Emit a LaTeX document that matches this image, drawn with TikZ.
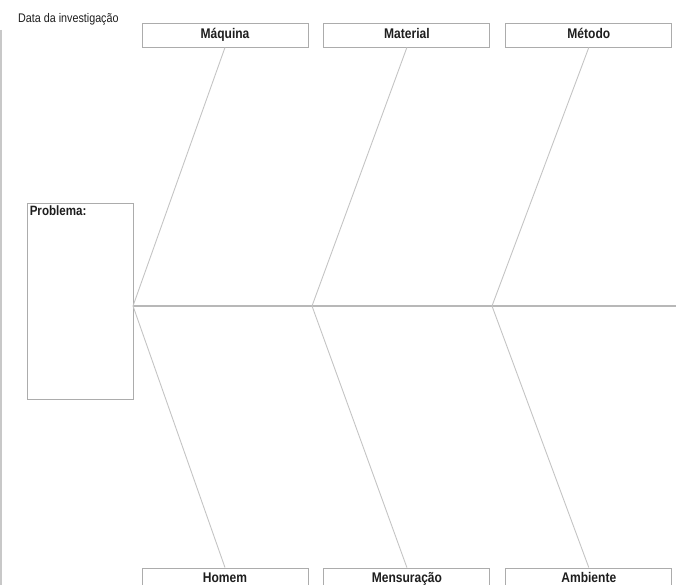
\documentclass[tikz,border=0pt]{standalone}
\usepackage{xcolor}
\usepackage{fontspec}
\setmainfont{Liberation Sans}[FakeStretch=0.86]
\usepackage{tikz}
\usetikzlibrary{
  positioning,
  calc
}
\definecolor{boxborder}{RGB}{172,172,172}
\definecolor{bonecolor}{RGB}{196,196,196}
\definecolor{spinecolor}{RGB}{184,184,184}
\definecolor{edgecolor}{RGB}{200,200,200}
\definecolor{textcolor}{RGB}{30,30,30}
\tikzset{
  causebox/.style={
    draw=boxborder, fill=white, line width=0.9pt,
    minimum width=166pt, minimum height=24pt, inner sep=0pt,
    text height=10pt, text depth=2pt,
    font=\fontsize{14}{15}\selectfont\bfseries, text=textcolor
  },
  lowbox/.style={
    causebox, text depth=6pt
  },
  probbox/.style={
    draw=boxborder, fill=white, line width=0.9pt,
    minimum width=106pt, minimum height=196pt, inner sep=0pt
  },
  bone/.style={
    draw=bonecolor, line width=0.9pt
  },
  spine/.style={
    draw=spinecolor, line width=2.4pt
  },
  datelabel/.style={
    font=\fontsize{12.5}{13}\selectfont, text=textcolor, inner sep=0pt
  }
}

\begin{document}
\begin{tikzpicture}[x=1pt, y=-1pt]
    \useasboundingbox (0,0) rectangle (676,585);
    \draw[edgecolor, line width=1.2pt] (1,30) -- (1,585);

    % Header
    \node[datelabel, anchor=west] (data) at (18,19) {Data da investigação};

    % Cause boxes (top row)
    \node[causebox] (maquina) at (225,35) {Máquina};
    \node[causebox, right=15pt of maquina] (material) {Material};
    \node[causebox, right=15pt of material] (metodo) {Método};

    % Cause boxes (bottom row)
    \node[lowbox] (homem) at (225,580) {Homem};
    \node[lowbox, right=15pt of homem] (mensuracao) {Mensuração};
    \node[lowbox, right=15pt of mensuracao] (ambiente) {Ambiente};

    % Problem box
    \node[probbox, label={[anchor=north west, inner sep=3pt, font=\fontsize{13.5}{14}\selectfont\bfseries, text=textcolor]north west:{Problema:}}] (problema) at (80,301) {};

    % Spine joints
    \coordinate (j1) at (133,306);
    \coordinate (j2) at (312,306);
    \coordinate (j3) at (492,306);
    \coordinate (head) at (676,306);

    % Spine
    \draw[spine] (j1) -- (head);

    % Bones
    \draw[bone] (j1) -- (maquina.south);
    \draw[bone] (j2) -- (material.south);
    \draw[bone] (j3) -- (metodo.south);
    \draw[bone] (j1) -- (homem.north);
    \draw[bone] (j2) -- (mensuracao.north);
    \draw[bone] (j3) -- (ambiente.north);

  \end{tikzpicture}
\end{document}
